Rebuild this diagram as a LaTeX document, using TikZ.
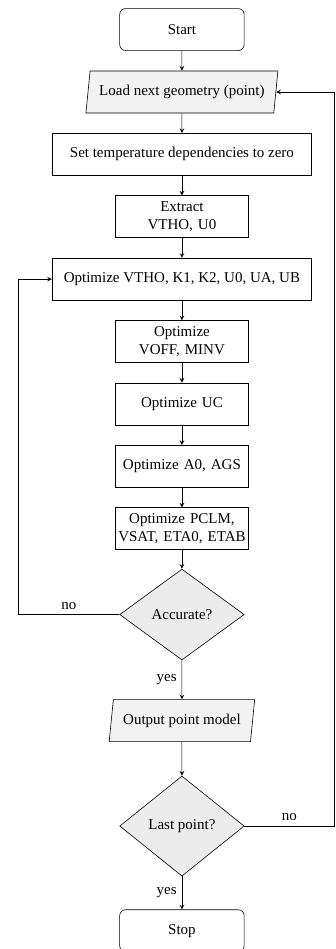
\documentclass[tikz,border=0pt]{standalone}
\usepackage{fontspec}
\setmainfont{Liberation Serif}
\usepackage{tikz}
\usetikzlibrary{shapes.geometric,arrows,positioning}
\tikzstyle{startstop} = [rectangle, rounded corners, minimum width=83pt, minimum height=28pt, text centered, draw=black]
\tikzstyle{io} = [trapezium, trapezium left angle=80, trapezium right angle=100, trapezium stretches body, minimum height=28pt, text centered, draw=black, fill=gray!10]
\tikzstyle{wideaction} = [rectangle, minimum width=173pt, minimum height=28pt, text centered, draw=black]
\tikzstyle{action} = [rectangle, minimum height=28pt, text width=86pt, inner xsep=1.5pt, align=center, draw=black]
\tikzstyle{decision} = [diamond, minimum width=83pt, text centered, draw=black, fill=gray!15]
\tikzstyle{arrow} = [->,>=stealth]

\begin{document}
\begin{tikzpicture}[node distance=13.2pt] % Default node spacing

\useasboundingbox (-121.3pt,19.7pt) rectangle (102.7pt,-613pt);

% Place the nodes on the flowchart
\node(start)     [startstop]                               {Start};
\node(load)      [io, minimum width=128pt, below=of start] {Load next geometry (point)};
\node(zerotemp)  [wideaction, below=of load]               {Set temperature dependencies to zero};
\node(extract)   [action, below=of zerotemp]               {Extract\\VTHO, U0};
\node(optvth)    [wideaction, below=of extract]            {Optimize VTHO, K1, K2, U0, UA, UB};
\node(optvoff)   [action, below=of optvth]                 {Optimize\\VOFF, MINV};
\node(optuc)     [action, below=of optvoff]                {Optimize UC};
\node(opta0)     [action, below=of optuc]                  {Optimize A0, AGS};
\node(optpclm)   [action, below=of opta0]                  {Optimize PCLM,\\VSAT, ETA0, ETAB};
\node(accurate)  [decision, minimum height=58.7pt, below=12.5pt of optpclm] {Accurate?};
\node(output)    [io, minimum width=97pt, below=26pt of accurate]            {Output point model};
\node(lastpt)    [decision, minimum height=66.7pt, below=22.5pt of output]   {Last point?};
\node(stop)      [startstop, below=22pt of lastpt]                           {Stop};

% Corners of the two feedback loops
\coordinate (retry)   at ([xshift=-67.4pt]accurate.west);
\coordinate (nextpt)  at ([xshift=60pt]lastpt.east);

% Connect the nodes with arrows
\draw [arrow] (start)    -- (load);
\draw [arrow] (load)     -- (zerotemp);
\draw [arrow] (zerotemp) -- (extract);
\draw [arrow] (extract)  -- (optvth);
\draw [arrow] (optvth)   -- (optvoff);
\draw [arrow] (optvoff)  -- (optuc);
\draw [arrow] (optuc)    -- (opta0);
\draw [arrow] (opta0)    -- (optpclm);
\draw [arrow] (optpclm)  -- (accurate);
\draw [arrow] (accurate) -- node[left] {yes} (output);
\draw [arrow] (accurate.west) -- node[above] {no} (retry) |- (optvth.west);
\draw [arrow] (output)   -- (lastpt);
\draw [arrow] (lastpt)   -- node[left] {yes} (stop);
\draw [arrow] (lastpt.east) -- node[above] {no} (nextpt) |- (load.east);

\end{tikzpicture}
\end{document}
